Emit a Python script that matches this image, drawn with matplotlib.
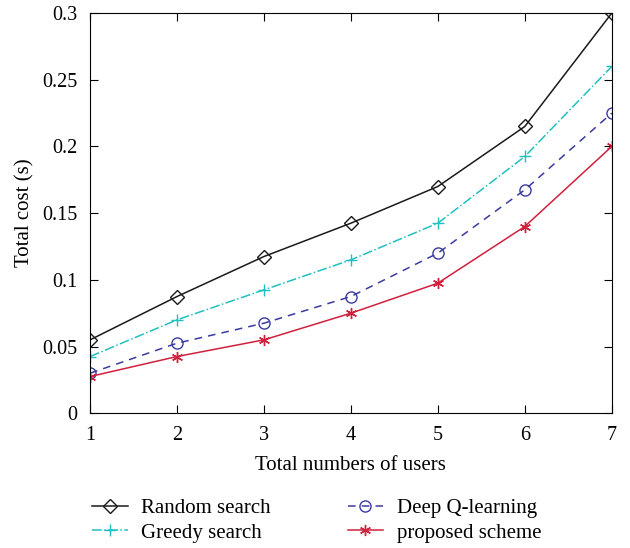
import numpy as np
import matplotlib.pyplot as plt

plt.rcParams['font.family'] = ['Liberation Serif', 'DejaVu Serif']

users = [1, 2, 3, 4, 5, 6, 7]
random_search = [0.055, 0.0875, 0.1175, 0.1425, 0.17, 0.215, 0.3]
greedy_search = [0.0425, 0.07, 0.0925, 0.115, 0.1425, 0.1925, 0.26]
deep_q = [0.03, 0.0525, 0.0675, 0.0875, 0.12, 0.1675, 0.225]
proposed = [0.0275, 0.0425, 0.055, 0.075, 0.0975, 0.14, 0.2]

fig = plt.figure(figsize=(6.3, 5.48), dpi=100)
ax = fig.add_axes([0.143, 0.246, 0.828, 0.73])

l1, = ax.plot(users, random_search, color='#1a1a1a', lw=1.1, marker='D', ms=7,
              mfc='none', mec='#1a1a1a', label='Random search')
l2, = ax.plot(users, greedy_search, color='#20c0c0', lw=1.1, ls='-.', marker='+', ms=9,
              label='Greedy search')
l3, = ax.plot(users, deep_q, color='#3a3aa0', lw=1.1, ls=(0, (5, 4)), marker='o', ms=8,
              mfc='none', mec='#3a3aa0', label='Deep Q-learning')
l4, = ax.plot(users, proposed, color='#d0203c', lw=1.1, marker=(6, 2, 0), ms=8,
              label='proposed scheme')

ax.set_xlim(1, 7)
ax.set_ylim(0, 0.3)
ax.set_xticks(users)
ax.set_yticks([0, 0.05, 0.1, 0.15, 0.2, 0.25, 0.3])
ax.set_yticklabels(['0', '0.05', '0.1', '0.15', '0.2', '0.25', '0.3'])
ax.tick_params(direction='in', top=True, right=True, labelsize=14.5, length=6)
ax.tick_params(axis='x', pad=9)
ax.tick_params(axis='y', pad=9)
ax.set_xlabel('Total numbers of users', fontsize=15, labelpad=8)
ax.set_ylabel('Total cost (s)', fontsize=15, labelpad=6)

fig.legend(handles=[l1, l2, l3, l4], loc='upper left', ncol=2, frameon=False,
           fontsize=15, bbox_to_anchor=(0.133, 0.106), columnspacing=3.7,
           handlelength=1.7, labelspacing=0.25, handletextpad=0.65,
           borderaxespad=0)

plt.savefig('out.png', dpi=100)
